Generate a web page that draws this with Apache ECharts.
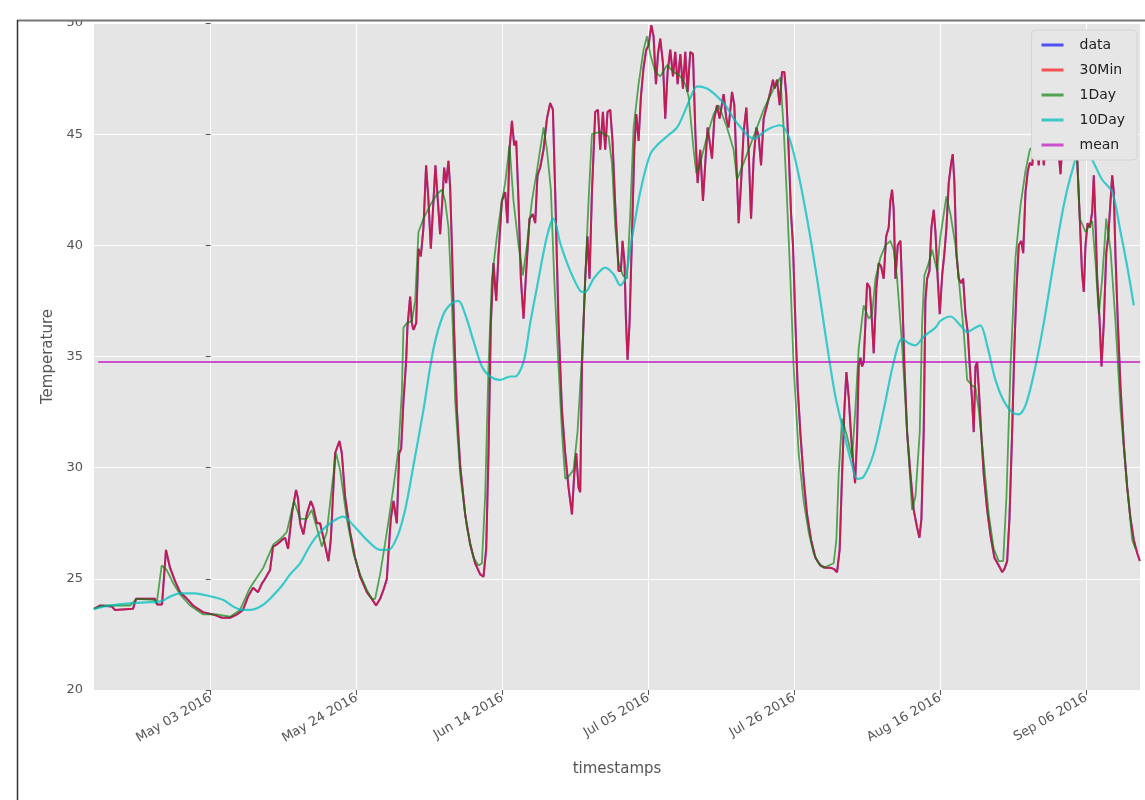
<!DOCTYPE html>
<html>
<head>
<meta charset="utf-8">
<title>Temperature</title>
<script src="https://cdn.jsdelivr.net/npm/echarts@6/dist/echarts.min.js"></script>
<style>
  html, body { margin: 0; padding: 0; background: #ffffff; }
  #chart { width: 1145px; height: 800px; }
</style>
</head>
<body>
<div id="chart"></div>
<script>
// x values are days since 2016-05-03
const tickDays = [0, 21, 42, 63, 84, 105, 126];
const tickLabels = ['May 03 2016', 'May 24 2016', 'Jun 14 2016', 'Jul 05 2016',
                    'Jul 26 2016', 'Aug 16 2016', 'Sep 06 2016'];
const dayRange = [-16.8, 133.75];

// 30 minute resample of the raw readings
const temp30Min = [
  [-16.81,23.65],[-15.94,23.8],[-14.21,23.75],[-13.78,23.6],[-11.19,23.65],[-10.76,24.1],[-8.02,24.1],[-7.73,23.85],
  [-7.01,23.85],[-6.44,26.3],[-5.86,25.5],[-5.14,24.9],[-4.42,24.4],[-3.41,24.1],[-2.55,23.8],[-1.11,23.5],
  [0.33,23.4],[1.63,23.25],[2.78,23.25],[3.79,23.4],[4.65,23.6],[5.37,24.2],[6.09,24.6],[6.81,24.4],
  [7.39,24.8],[7.82,25.0],[8.54,25.4],[8.97,26.45],[9.55,26.55],[10.27,26.75],[10.70,26.85],[11.13,26.35],
  [11.71,28.0],[12.28,29.0],[12.57,28.6],[12.86,27.5],[13.34,27.0],[13.82,27.9],[14.40,28.5],[14.78,28.2],
  [15.27,27.5],[15.74,27.5],[16.22,26.85],[16.94,25.8],[17.28,26.75],[17.90,30.65],[18.52,31.2],[18.87,30.65],
  [19.34,28.7],[20.06,27.1],[20.78,25.95],[21.50,25.1],[22.47,24.4],[23.19,24.1],[23.80,23.8],[24.38,24.1],
  [24.86,24.5],[25.35,25.0],[25.58,26.15],[25.92,27.7],[26.30,28.5],[26.79,27.5],[27.12,30.65],[27.41,30.85],
  [27.74,33.0],[28.12,34.75],[28.31,36.3],[28.70,37.7],[28.95,36.5],[29.18,36.2],[29.57,36.5],[29.90,39.85],
  [30.24,39.5],[30.62,40.8],[31.00,43.6],[31.34,42.0],[31.68,39.85],[32.06,42.0],[32.34,43.6],[32.69,42.0],
  [33.02,40.5],[33.41,42.4],[33.60,43.5],[33.89,42.8],[34.22,43.8],[34.46,42.6],[34.71,40.0],[35.04,36.1],
  [35.43,32.6],[35.90,30.1],[36.62,27.9],[37.34,26.55],[38.06,25.7],[38.78,25.2],[39.26,25.1],[39.65,26.35],
  [39.98,30.65],[40.32,36.5],[40.70,39.2],[41.09,37.5],[41.42,39.6],[41.91,42.0],[42.38,42.4],[42.71,41.0],
  [43.00,44.3],[43.35,45.6],[43.68,44.5],[43.97,44.7],[44.30,42.0],[44.64,38.5],[45.02,36.7],[45.41,38.85],
  [45.88,41.2],[46.37,41.4],[46.70,41.0],[47.03,43.15],[47.42,43.5],[47.90,44.3],[48.39,45.7],[48.86,46.4],
  [49.25,46.1],[49.58,42.4],[50.06,36.5],[50.55,32.6],[51.02,30.65],[51.50,29.1],[51.99,27.9],[52.32,29.7],
  [52.61,30.65],[52.94,29.1],[53.18,28.9],[53.43,34.55],[53.90,38.5],[54.23,40.4],[54.52,38.5],[54.87,42.4],
  [55.34,46.0],[55.73,46.1],[56.06,44.3],[56.45,46.0],[56.78,44.3],[57.11,46.0],[57.50,46.1],[57.83,44.7],
  [58.22,41.8],[58.70,38.85],[59.04,38.85],[59.27,40.2],[59.56,39.2],[59.76,36.7],[59.99,34.85],[60.28,36.5],
  [60.63,40.4],[60.96,44.3],[61.25,45.9],[61.58,44.7],[61.92,46.7],[62.30,48.0],[62.69,48.8],[63.02,49.0],
  [63.41,49.9],[63.74,49.4],[64.08,47.25],[64.37,48.6],[64.70,49.3],[65.09,48.2],[65.42,45.7],[65.76,47.8],
  [66.14,48.8],[66.53,47.6],[66.86,48.7],[67.20,47.25],[67.59,48.6],[67.97,47.05],[68.30,48.7],[68.64,46.9],
  [69.02,48.7],[69.41,48.6],[69.75,45.1],[70.08,42.8],[70.46,44.3],[70.85,42.0],[71.18,43.7],[71.52,45.3],
  [71.80,45.3],[72.15,43.9],[72.48,45.7],[72.87,46.3],[73.24,45.7],[73.82,46.8],[74.21,45.7],[74.54,45.3],
  [75.03,46.9],[75.36,46.3],[75.75,42.95],[75.98,41.0],[76.33,42.8],[76.70,45.1],[77.09,46.2],[77.42,44.3],
  [77.77,41.2],[78.14,43.9],[78.53,45.3],[78.86,44.9],[79.21,43.6],[79.58,45.7],[80.07,46.3],[80.54,46.9],
  [80.93,47.45],[81.16,47.05],[81.51,47.45],[81.88,46.3],[82.23,47.8],[82.56,47.8],[82.85,46.7],[83.18,44.3],
  [83.53,41.4],[83.81,40.0],[84.15,36.5],[84.48,33.6],[84.86,31.6],[85.34,29.5],[85.83,27.9],[86.41,26.75],
  [87.03,25.95],[87.75,25.6],[88.47,25.5],[89.18,25.5],[89.66,25.45],[90.15,25.3],[90.53,26.35],[90.87,29.7],
  [91.20,32.6],[91.49,34.3],[91.82,33.2],[92.17,31.4],[92.45,30.3],[92.74,29.3],[93.03,31.4],[93.26,34.55],
  [93.51,34.95],[93.75,34.55],[93.98,34.75],[94.23,36.5],[94.47,38.3],[94.85,38.1],[95.19,36.5],[95.42,35.15],
  [95.81,38.1],[96.14,39.2],[96.49,39.05],[96.86,38.5],[97.21,40.4],[97.58,40.8],[97.82,42.0],[98.07,42.5],
  [98.30,41.6],[98.55,38.5],[98.88,40.0],[99.27,40.2],[99.51,38.1],[99.84,34.55],[100.23,31.6],[100.71,29.7],
  [101.18,28.1],[101.67,27.3],[102.00,26.85],[102.29,27.7],[102.62,31.6],[102.86,37.5],[103.11,38.5],[103.44,38.85],
  [103.73,40.8],[104.06,41.6],[104.31,40.6],[104.64,38.5],[104.93,36.9],[105.27,38.65],[105.60,39.65],[105.89,40.8],
  [106.22,42.8],[106.57,43.7],[106.80,44.1],[107.04,42.8],[107.33,39.65],[107.66,38.5],[108.01,38.3],[108.30,38.5],
  [108.63,36.9],[108.96,36.1],[109.25,34.55],[109.59,33.0],[109.82,31.6],[110.07,34.55],[110.31,34.75],[110.54,33.6],
  [110.89,31.6],[111.26,29.7],[111.75,28.1],[112.23,26.95],[112.80,25.95],[113.42,25.6],[113.91,25.3],[114.24,25.45],
  [114.63,25.8],[114.96,27.7],[115.35,31.6],[115.68,35.5],[115.97,38.05],[116.30,40.0],[116.65,40.2],[116.94,39.65],
  [117.27,42.4],[117.60,43.35],[117.89,43.7],[118.23,43.6],[118.71,45.2],[119.18,43.6],[119.57,45.3],[119.90,43.6],
  [120.44,45.5],[120.87,45.0],[121.44,45.6],[121.88,44.8],[122.31,43.2],[122.74,45.4],[123.31,46.0],[123.75,45.0],
  [124.18,45.8],[124.71,43.9],[125.04,41.5],[125.40,38.8],[125.66,37.9],[125.91,40.0],[126.20,41.0],[126.53,40.8],
  [126.87,41.5],[127.10,43.15],[127.35,41.0],[127.59,38.5],[127.92,36.7],[128.21,34.55],[128.54,36.5],[128.89,39.65],
  [129.18,40.4],[129.51,42.0],[129.75,43.15],[129.98,42.4],[130.23,39.45],[130.56,36.5],[130.95,33.6],[131.42,31.05],
  [131.91,29.1],[132.39,27.7],[132.86,26.75],[133.35,26.15],[133.73,25.8]
];

// raw sensor readings (coincide with the 30 minute resample at this scale)
const tempRaw = temp30Min;

// daily mean
const temp1Day = [
  [-16.81,23.65],[-15.47,23.8],[-11.62,23.8],[-10.66,24.1],[-8.27,24.05],[-7.78,23.9],[-7.06,25.6],[-6.34,25.4],
  [-5.39,24.8],[-4.42,24.3],[-2.98,23.8],[-1.07,23.4],[0.86,23.4],[2.78,23.3],[4.22,23.6],[5.66,24.6],
  [7.57,25.5],[9.02,26.55],[10.22,26.85],[10.94,27.1],[12.00,28.5],[12.86,27.7],[13.82,27.7],[14.54,28.1],
  [15.27,27.3],[15.99,26.45],[16.71,27.1],[17.43,29.1],[18.04,30.65],[18.62,29.9],[19.59,27.7],[20.54,26.15],
  [21.50,25.2],[22.47,24.5],[23.19,24.1],[23.66,24.1],[24.38,25.2],[25.35,27.1],[26.30,29.1],[27.02,30.85],
  [27.51,33.4],[27.74,36.3],[28.23,36.5],[28.95,36.6],[29.42,37.5],[29.90,40.6],[30.62,41.2],[31.58,41.8],
  [32.55,42.3],[33.27,42.5],[33.74,42.0],[34.22,40.8],[34.71,37.5],[35.18,33.0],[35.90,29.7],[36.87,27.3],
  [37.82,25.95],[38.54,25.6],[39.03,25.7],[39.50,28.7],[39.98,34.55],[40.47,38.5],[41.19,40.4],[41.91,42.0],
  [42.38,42.8],[43.00,44.5],[43.58,42.0],[44.30,40.0],[44.93,38.65],[45.51,40.0],[46.23,42.0],[46.95,43.35],
  [47.90,45.3],[48.39,44.3],[48.96,42.5],[49.44,38.5],[50.06,34.55],[50.55,31.6],[51.02,29.5],[51.50,29.6],
  [52.22,29.9],[52.79,31.6],[53.43,34.95],[53.90,38.5],[54.38,42.0],[54.87,45.0],[56.06,45.1],[57.26,44.9],
  [57.75,43.7],[58.22,40.8],[58.70,39.2],[59.33,38.65],[59.91,38.5],[60.38,41.4],[60.86,45.3],[61.58,47.25],
  [62.30,48.8],[62.79,49.4],[63.26,48.6],[63.98,47.8],[64.70,47.6],[65.67,48.1],[66.62,47.8],[67.59,47.6],
  [68.30,47.25],[68.78,46.7],[69.50,44.3],[69.89,43.25],[70.46,43.7],[71.43,44.9],[72.38,45.9],[73.10,46.3],
  [74.31,45.3],[75.26,44.3],[75.75,42.95],[76.70,43.7],[78.14,44.9],[79.58,46.1],[81.02,47.05],[81.98,47.55],
  [82.46,45.3],[82.95,42.0],[83.43,38.5],[83.90,34.55],[84.62,30.65],[85.34,28.5],[86.06,27.1],[86.78,26.15],
  [87.50,25.7],[88.22,25.5],[88.94,25.6],[89.66,25.7],[90.05,26.75],[90.38,29.7],[90.87,32.2],[91.59,31.4],
  [92.31,30.45],[92.78,32.6],[93.26,35.35],[93.98,37.3],[94.70,36.7],[95.19,36.9],[95.67,38.5],[96.39,39.45],
  [97.11,40.0],[97.82,40.2],[98.30,39.8],[98.79,38.5],[99.51,35.5],[100.23,31.6],[100.95,28.1],[101.43,28.7],
  [102.05,31.6],[102.39,36.5],[102.72,38.65],[103.34,39.2],[103.83,39.8],[104.55,38.85],[105.02,40.4],[105.89,42.2],
  [106.47,41.4],[107.19,40.0],[107.66,38.5],[108.38,36.1],[108.87,33.95],[109.59,33.7],[110.07,33.6],[110.54,32.6],
  [111.26,30.3],[111.98,27.9],[112.70,26.35],[113.42,25.8],[114.06,25.8],[114.53,28.7],[115.11,34.55],[115.83,39.45],
  [116.55,41.8],[117.27,43.35],[117.89,44.3],[119.43,44.8],[121.59,45.0],[123.46,44.8],[124.71,43.9],[125.09,41.2],
  [125.91,40.6],[126.87,41.1],[127.35,39.2],[127.82,36.9],[128.31,38.5],[128.89,41.2],[129.51,39.8],[130.23,36.5],
  [130.95,32.6],[131.91,29.1],[132.63,26.75],[133.11,26.35]
];

// ten day rolling mean
const temp10Day = [
  [-16.81,23.65],[-14.50,23.8],[-11.62,23.9],[-8.74,23.95],[-7.06,24.0],[-5.86,24.2],[-4.42,24.35],[-2.26,24.35],
  [-0.58,24.25],[1.81,24.05],[3.25,23.75],[4.46,23.6],[5.66,23.6],[7.39,23.8],[8.83,24.2],[10.27,24.7],
  [11.42,25.2],[12.86,25.7],[14.30,26.5],[15.74,27.1],[17.66,27.6],[19.10,27.8],[20.54,27.4],[22.47,26.75],
  [24.38,26.3],[25.58,26.3],[26.79,26.85],[27.98,28.1],[29.18,30.1],[30.62,32.6],[32.06,35.35],[33.50,36.9],
  [34.71,37.4],[35.66,37.5],[36.62,36.9],[37.82,35.7],[39.03,34.55],[40.22,34.1],[41.66,33.95],[43.10,34.1],
  [43.82,34.1],[45.02,34.75],[45.98,36.5],[46.95,38.1],[48.39,40.4],[49.34,41.2],[50.30,40.1],[51.74,38.85],
  [53.18,37.95],[53.90,37.9],[55.10,38.5],[56.78,39.0],[57.98,38.7],[58.94,38.2],[59.66,38.5],[60.38,39.85],
  [61.82,42.4],[63.26,44.1],[64.23,44.5],[65.67,44.9],[67.11,45.3],[68.06,45.9],[69.27,46.8],[69.99,47.15],
  [71.43,47.05],[72.87,46.7],[74.06,46.3],[75.75,45.5],[78.14,44.8],[80.07,45.2],[81.98,45.4],[83.18,44.9],
  [84.39,43.5],[85.83,41.2],[87.27,38.5],[88.71,35.5],[89.91,33.2],[91.10,31.6],[92.31,30.1],[93.03,29.5],
  [93.98,29.6],[95.42,30.65],[96.86,32.6],[98.30,34.75],[99.51,35.8],[100.46,35.6],[101.43,35.5],[102.62,35.9],
  [104.31,36.3],[105.02,36.6],[106.47,36.8],[107.91,36.4],[108.87,36.1],[110.07,36.3],[110.79,36.4],[111.75,35.5],
  [112.94,33.95],[114.14,33.0],[115.35,32.5],[116.30,32.4],[117.27,32.8],[118.46,34.2],[119.90,36.5],[121.34,39.25],
  [122.78,41.8],[123.99,43.35],[125.18,44.3],[126.20,44.2],[127.10,43.7],[128.31,42.95],[129.75,42.4],[130.95,40.6],
  [131.91,39.05],[132.86,37.3]
];

// overall mean temperature
const meanTemp = 34.75;
const meanSpan = [-16.19, 133.75];

const FONT = 'DejaVu Sans';
// legend handle: a horizontal bar centred in a 22x14 box
const LINE_HANDLE = 'path://M0,0L0.01,0M0,5.5L22,5.5L22,8.5L0,8.5ZM22,14L21.99,14';

const chart = echarts.init(document.getElementById('chart'), null, { renderer: 'canvas' });

function lineSeries(name, data, color, width, extra) {
  return Object.assign({
    name: name,
    type: 'line',
    data: data,
    symbol: 'none',
    showSymbol: false,
    silent: true,
    lineStyle: { color: color, width: width },
    itemStyle: { color: color },
    emphasis: { disabled: true }
  }, extra || {});
}

chart.setOption({
  animation: false,
  backgroundColor: '#ffffff',
  textStyle: { fontFamily: FONT },
  grid: {
    left: 94, right: 5, top: 23, bottom: 110,
    show: true, backgroundColor: '#e5e5e5', borderWidth: 0
  },
  legend: {
    orient: 'vertical',
    right: 8, top: 30,
    padding: [8, 12, 8, 10],
    itemWidth: 22, itemHeight: 14, itemGap: 11,
    icon: LINE_HANDLE,
    itemStyle: { borderWidth: 0 },
    backgroundColor: '#e6e6e6',
    borderColor: '#d4d4d4', borderWidth: 1, borderRadius: 4,
    textStyle: { fontFamily: FONT, fontSize: 14, color: '#222222', padding: [0, 0, 0, 11] },
    data: ['data', '30Min', '1Day', '10Day', 'mean']
  },
  xAxis: {
    type: 'value',
    min: dayRange[0], max: dayRange[1],
    name: 'timestamps',
    nameLocation: 'middle',
    nameGap: 72,
    nameTextStyle: { fontFamily: FONT, fontSize: 15, color: '#555555' },
    axisLine: { show: false },
    axisTick: { show: true, customValues: tickDays, length: 5, lineStyle: { color: '#555555' } },
    axisLabel: {
      customValues: tickDays,
      rotate: 30,
      margin: 7,
      fontFamily: FONT, fontSize: 13, color: '#555555',
      formatter: function (v) {
        const i = tickDays.indexOf(Math.round(v));
        return i >= 0 ? tickLabels[i] : '';
      }
    },
    splitLine: { show: true, lineStyle: { color: '#ffffff', width: 1 } }
  },
  yAxis: {
    type: 'value',
    min: 20, max: 50, interval: 5,
    name: 'Temperature',
    nameLocation: 'middle',
    nameRotate: 90,
    nameGap: 35,
    nameTextStyle: { fontFamily: FONT, fontSize: 15, color: '#555555' },
    axisLine: { show: false },
    axisTick: { show: true, length: 5, lineStyle: { color: '#555555' } },
    axisLabel: { margin: 11, fontFamily: FONT, fontSize: 13, color: '#555555' },
    splitLine: { show: true, lineStyle: { color: '#ffffff', width: 1 } }
  },
  series: [
    lineSeries('data', tempRaw, 'rgba(0,0,255,0.65)', 2),
    lineSeries('30Min', temp30Min, 'rgba(255,0,0,0.65)', 2),
    lineSeries('1Day', temp1Day, 'rgba(0,128,0,0.65)', 1.8),
    lineSeries('10Day', temp10Day, 'rgba(0,191,191,0.75)', 2.2, { smooth: 0.3 }),
    lineSeries('mean', [[meanSpan[0], meanTemp], [meanSpan[1], meanTemp]], 'rgba(191,0,191,0.65)', 2)
  ],
  graphic: [
    { type: 'rect', z: 100, silent: true,
      shape: { x: 0, y: 0, width: 1145, height: 20 }, style: { fill: '#ffffff' } },
    { type: 'line', z: 101, silent: true,
      shape: { x1: 17, y1: 20.5, x2: 1145, y2: 20.5 }, style: { stroke: '#777777', lineWidth: 2 } },
    { type: 'line', z: 101, silent: true,
      shape: { x1: 17.5, y1: 20, x2: 17.5, y2: 800 }, style: { stroke: '#333333', lineWidth: 1.5 } }
  ]
});
</script>
</body>
</html>
